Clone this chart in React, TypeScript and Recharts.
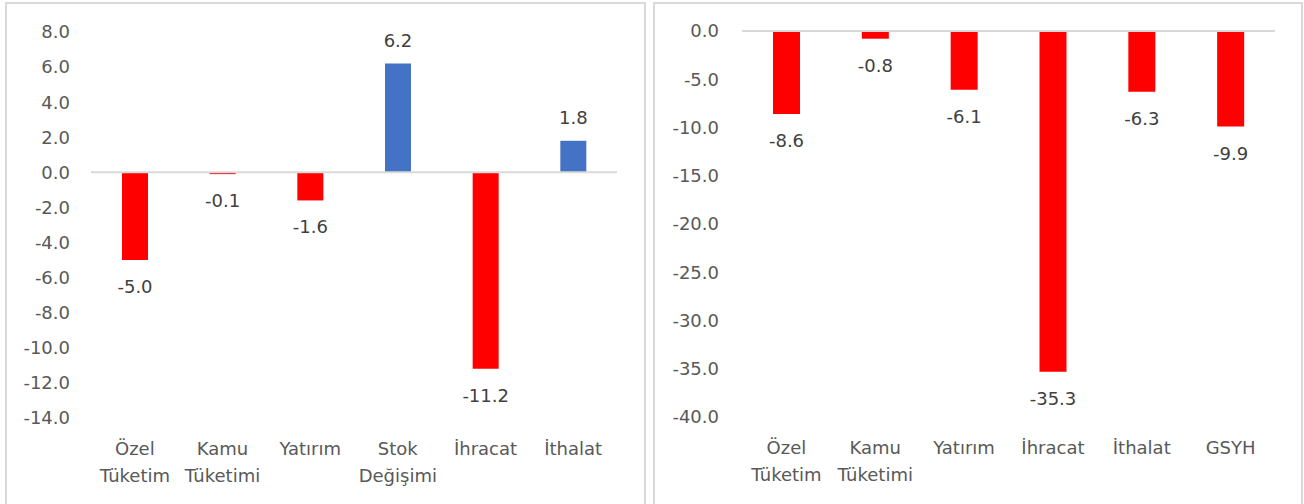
import React from 'react';
import { BarChart, Bar, XAxis, YAxis, ReferenceLine, Cell, LabelList } from 'recharts';

// left panel: contributions
const leftCategories = ['Özel\nTüketim', 'Kamu\nTüketimi', 'Yatırım', 'Stok\nDeğişimi', 'İhracat', 'İthalat'];
const leftValues = [-5.0, -0.1, -1.6, 6.2, -11.2, 1.8];
const leftTicks = [8, 6, 4, 2, 0, -2, -4, -6, -8, -10, -12, -14];

// right panel: changes
const rightCategories = ['Özel\nTüketim', 'Kamu\nTüketimi', 'Yatırım', 'İhracat', 'İthalat', 'GSYH'];
const rightValues = [-8.6, -0.8, -6.1, -35.3, -6.3, -9.9];
const rightTicks = [0, -5, -10, -15, -20, -25, -30, -35, -40];

const FONT = 'DejaVu Sans';
const RED = '#FF0000';
const BLUE = '#4472C4';

const CategoryTick = (props: any) => {
  const { x, y, payload } = props;
  const lines = String(payload.value).split('\n');
  return (
    <text x={x} y={y} textAnchor="middle" fill="#595959" fontSize={18} fontFamily={FONT}>
      {lines.map((line, i) => (
        <tspan key={i} x={x} dy={i === 0 ? 37 : 27}>
          {line}
        </tspan>
      ))}
    </text>
  );
};

const ValueLabel = (props: any) => {
  const { x, y, width, height, value } = props;
  const top = Math.min(y, y + height);
  const bottom = Math.max(y, y + height);
  const ty = value < 0 ? bottom + 33 : top - 17;
  return (
    <text x={x + width / 2} y={ty} textAnchor="middle" fill="#404040" fontSize={18} fontFamily={FONT}>
      {Number(value).toFixed(1)}
    </text>
  );
};

const Panel: React.FC<{
  categories: string[];
  values: number[];
  ticks: number[];
  width: number;
  margin: { top: number; right: number; left: number; bottom: number };
  yWidth: number;
  tickGap: number;
  barSize: number;
}> = ({ categories, values, ticks, width, margin, yWidth, tickGap, barSize }) => {
  const data = categories.map((name, i) => ({ name, value: values[i] }));
  return (
    <BarChart width={width} height={504} data={data} margin={margin}>
      <XAxis
        dataKey="name"
        axisLine={false}
        tickLine={false}
        tickSize={0}
        tickMargin={0}
        interval={0}
        height={504 - margin.top - 386}
        tick={<CategoryTick />}
      />
      <YAxis
        type="number"
        domain={[ticks[ticks.length - 1], ticks[0]]}
        ticks={ticks}
        interval={0}
        width={yWidth}
        axisLine={false}
        tickLine={false}
        tickSize={0}
        tickMargin={tickGap}
        tickFormatter={(v: number) => v.toFixed(1)}
        tick={{ fill: '#595959', fontSize: 18, fontFamily: FONT }}
      />
      <Bar dataKey="value" barSize={barSize} isAnimationActive={false}>
        {data.map((d, i) => (
          <Cell key={i} fill={d.value < 0 ? RED : BLUE} />
        ))}
        <LabelList dataKey="value" content={<ValueLabel />} />
      </Bar>
      <ReferenceLine y={0} stroke="#D9D9D9" strokeWidth={2} />
    </BarChart>
  );
};

const App: React.FC = () => {
  return (
    <div style={{ position: 'absolute', left: 0, top: 0, width: 1304, height: 504, overflow: 'hidden', background: '#fff' }}>
      <div
        style={{
          position: 'absolute',
          left: 5,
          top: 2,
          width: 641,
          height: 520,
          boxSizing: 'border-box',
          border: '2px solid #D9D9D9',
        }}
      />
      <div
        style={{
          position: 'absolute',
          left: 653,
          top: 2,
          width: 650,
          height: 520,
          boxSizing: 'border-box',
          border: '2px solid #D9D9D9',
        }}
      />
      <div style={{ position: 'absolute', left: 0, top: 0 }}>
        <Panel
          categories={leftCategories}
          values={leftValues}
          ticks={leftTicks}
          width={650}
          margin={{ top: 32, right: 33, left: 0, bottom: 0 }}
          yWidth={91}
          tickGap={21}
          barSize={26}
        />
      </div>
      <div style={{ position: 'absolute', left: 650, top: 0 }}>
        <Panel
          categories={rightCategories}
          values={rightValues}
          ticks={rightTicks}
          width={654}
          margin={{ top: 31, right: 29, left: 0, bottom: 0 }}
          yWidth={92}
          tickGap={23}
          barSize={27}
        />
      </div>
    </div>
  );
};

export default App;
